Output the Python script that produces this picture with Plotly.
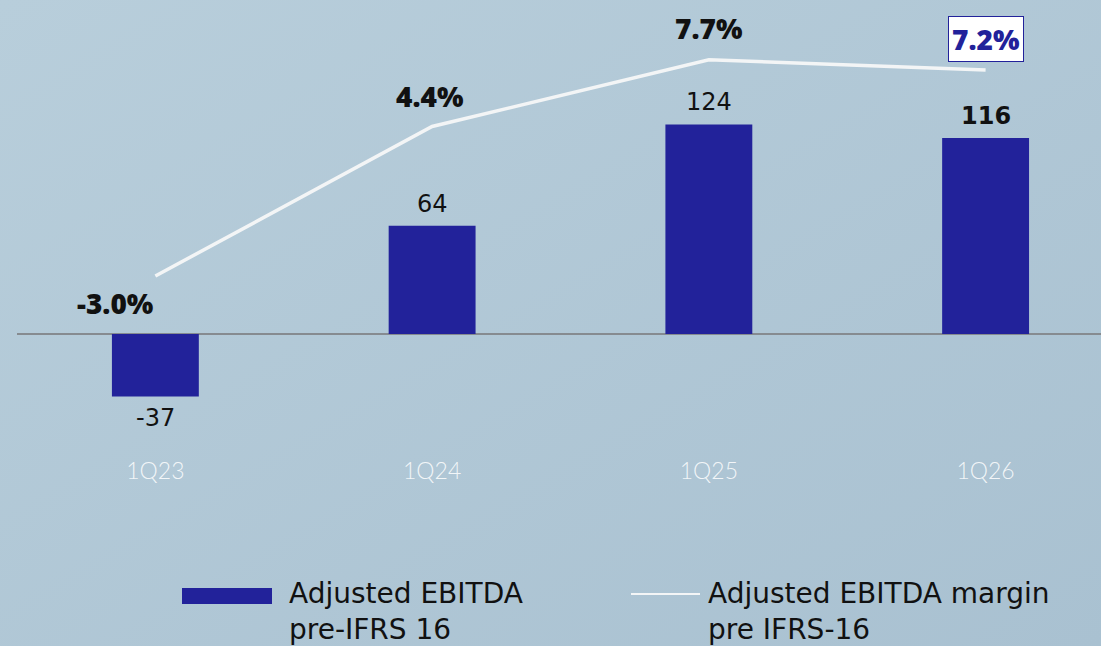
import base64

import plotly.graph_objects as go

# ── Data ─────────────────────────────────────────────────────────────────────
quarters = ["1Q23", "1Q24", "1Q25", "1Q26"]
ebitda = [-37, 64, 124, 116]
margin_pct = [-3.0, 4.4, 7.7, 7.2]

ebitda_labels = ["-37", "64", "124", "116"]
margin_labels = ["-3.0%", "4.4%", "7.7%", "7.2%"]

# ── Style ────────────────────────────────────────────────────────────────────
BG = "#B0C8D6"
BAR = "#22229A"
LINE = "#F3F5F6"
FONT = "Open Sans"
TEXT_FONT = "DejaVu Sans"

W, H = 1101, 646
ML, MR, MT, MB = 17, 0, 0, 196
PW, PH = W - ML - MR, H - MT - MB


def px(x):
    return (x - ML) / PW


def py(y):
    return (H - MB - y) / PH


# soft diagonal background gradient
svg = (
    '<svg xmlns="http://www.w3.org/2000/svg" width="1101" height="646">'
    '<defs><linearGradient id="g" x1="0" y1="0" x2="1" y2="1">'
    '<stop offset="0" stop-color="#B8CEDB"/>'
    '<stop offset="1" stop-color="#A9C1D1"/>'
    '</linearGradient></defs>'
    '<rect width="1101" height="646" fill="url(#g)"/></svg>'
)
bg_src = "data:image/svg+xml;base64," + base64.b64encode(svg.encode()).decode()

fig = go.Figure()

fig.add_trace(go.Bar(
    x=quarters, y=ebitda,
    marker=dict(color=BAR, line=dict(width=0)),
    yaxis="y", showlegend=False,
))

fig.add_trace(go.Scatter(
    x=quarters, y=margin_pct,
    mode="lines",
    line=dict(color=LINE, width=3.5),
    yaxis="y2", showlegend=False,
))

annotations = []

# value labels on bars
for i, (q, v, t) in enumerate(zip(quarters, ebitda, ebitda_labels)):
    bold = i == len(quarters) - 1
    annotations.append(dict(
        x=q, y=v, xref="x", yref="y", text=f"<b>{t}</b>" if bold else t,
        showarrow=False, yshift=22 if v >= 0 else -21,
        font=dict(family=TEXT_FONT, size=24, color="#111111"),
    ))

# margin labels
shifts = [(-40, -27), (-2, 30), (0, 32), (0, 31)]
for i, (q, v, t) in enumerate(zip(quarters, margin_pct, margin_labels)):
    xs, ys = shifts[i]
    last = i == len(quarters) - 1
    annotations.append(dict(
        x=q, y=v, xref="x", yref="y2", text=t,
        showarrow=False, xshift=xs, yshift=ys,
        font=dict(family=FONT, size=28, weight=800,
                  color=BAR if last else "#111111"),
        bgcolor="white" if last else None,
        bordercolor=BAR if last else None,
        borderwidth=1 if last else 0,
        borderpad=3 if last else 0,
    ))

# legend (drawn by hand)
shapes = [
    dict(type="rect", xref="paper", yref="paper",
         x0=px(182), x1=px(272), y0=py(604), y1=py(588),
         fillcolor=BAR, line=dict(width=0)),
    dict(type="line", xref="paper", yref="paper",
         x0=px(631), x1=px(700), y0=py(594), y1=py(594),
         line=dict(color=LINE, width=2)),
]
annotations += [
    dict(x=px(287), y=py(611), xref="paper", yref="paper",
         xanchor="left", yanchor="middle", align="left", showarrow=False,
         text="Adjusted EBITDA<br>pre-IFRS 16",
         font=dict(family=TEXT_FONT, size=28, color="#111111")),
    dict(x=px(706), y=py(611), xref="paper", yref="paper",
         xanchor="left", yanchor="middle", align="left", showarrow=False,
         text="Adjusted EBITDA margin<br>pre IFRS-16",
         font=dict(family=TEXT_FONT, size=28, color="#111111")),
]

fig.update_layout(
    width=W, height=H,
    paper_bgcolor=BG, plot_bgcolor="rgba(0,0,0,0)",
    margin=dict(l=ML, r=MR, t=MT, b=MB),
    bargap=0.686,
    font=dict(family=FONT),
    images=[dict(
        source=bg_src, xref="paper", yref="paper",
        x=px(0), y=py(0), sizex=px(W) - px(0), sizey=py(0) - py(H),
        xanchor="left", yanchor="top", sizing="stretch", layer="below",
    )],
    xaxis=dict(
        type="category", range=[-0.5, 3.417],
        showgrid=False, showline=False, zeroline=False, ticks="",
        tickfont=dict(family="Lato", size=23, color="rgba(255,255,255,0.85)", weight=300),
        ticklabelstandoff=5,
    ),
    yaxis=dict(
        range=[-68.6, 197.6], visible=True, showticklabels=False,
        showgrid=False, showline=False,
        zeroline=True, zerolinecolor="#868B90", zerolinewidth=1.5,
    ),
    yaxis2=dict(
        range=[-11.61, 10.66], overlaying="y", visible=False,
        showgrid=False, zeroline=False,
    ),
    shapes=shapes,
    annotations=annotations,
)

fig.write_html(
    "out.html",
    config={"displayModeBar": False},
    post_script="document.body.style.margin='0';",
)
